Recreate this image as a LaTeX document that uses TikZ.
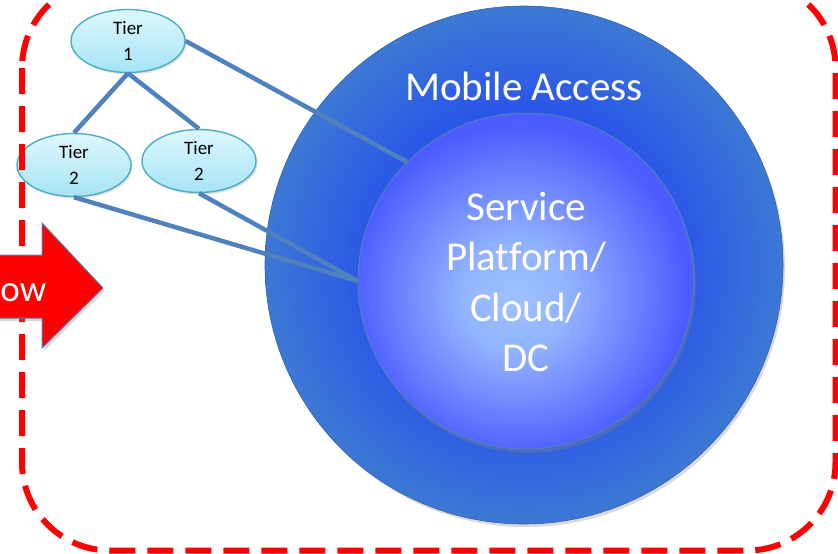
\documentclass[tikz,border=0pt]{standalone}
\usepackage{fontspec}
\setmainfont{Carlito}[Ligatures=NoCommon]
\usetikzlibrary{shapes.geometric,shadows}
\definecolor{ringin}{RGB}{42,86,232}
\definecolor{ringout}{RGB}{60,120,212}
\definecolor{coreout}{RGB}{76,92,255}
\definecolor{corein}{RGB}{158,194,255}
\definecolor{linkblue}{RGB}{79,129,189}
\definecolor{tierborder}{RGB}{75,172,198}
\definecolor{tiertop}{RGB}{222,247,253}
\definecolor{tierbot}{RGB}{165,228,245}
\definecolor{boxred}{RGB}{255,0,0}
\pgfdeclareradialshading{ringshade}{\pgfpoint{0bp}{0bp}}{color(0bp)=(ringin); color(15bp)=(ringin); color(25bp)=(ringout); color(50bp)=(ringout)}
\pgfdeclareradialshading{coreshade}{\pgfpoint{-2bp}{-3bp}}{color(0bp)=(corein); color(8bp)=(corein!85!coreout); color(25bp)=(coreout); color(50bp)=(coreout)}
\begin{document}
\begin{tikzpicture}[x=1pt,y=-1pt,
  tier/.style={ellipse, draw=tierborder, line width=1.4pt, top color=tiertop, bottom color=tierbot,
    minimum width=114pt, minimum height=63pt, inner sep=0pt, align=center,
    font=\fontsize{19}{26}\selectfont, text=black,
    drop shadow={opacity=0.25, shadow xshift=1.5pt, shadow yshift=-2pt}},
  link/.style={draw=linkblue, line width=4.5pt},
  bigtext/.style={text=white, font=\fontsize{41}{50.5}\selectfont, align=center},
  redbox/.style={draw=boxred, line width=6pt, dash pattern=on 26pt off 12pt, rounded corners=88pt}]
\useasboundingbox (0,0) rectangle (838,554);
% circles
\node[circle, minimum size=518pt, inner sep=0pt, shading=ringshade, draw=ringout!80!black, line width=0.6pt,
  drop shadow={opacity=0.3, shadow xshift=2pt, shadow yshift=-3pt}] (outer) at (524,265) {};
\node[circle, minimum size=336pt, inner sep=0pt, shading=coreshade, draw=linkblue, line width=1pt,
  drop shadow={opacity=0.35, shadow xshift=2pt, shadow yshift=-4pt}] (inner) at (526,281) {};
\node[bigtext] (core) at (526,282) {Service\\Platform/\\Cloud/\\DC};
\node[bigtext, anchor=base] (mobile) at (524,100) {Mobile Access};
% tiers
\node[tier] (tier1) at (128,41) {Tier\\1};
\node[tier] (tier2a) at (74,165) {Tier\\2};
\node[tier] (tier2b) at (199,161) {Tier\\2};
% connectors
\draw[link] (tier1.south) -- (tier2a.north);
\draw[link] (tier1.south) -- (tier2b.north);
\draw[link] (tier1.east) -- (inner.135);
\draw[link] (tier2a.south) -- (inner.180);
\draw[link] (tier2b.south) -- (inner.180);
% red dashed frame
\draw[redbox] (22,-20) rectangle (835.5,550.5);
% red arrow
\fill[boxred, draw=linkblue, line width=1pt, drop shadow={opacity=0.3, shadow xshift=2pt, shadow yshift=-3pt}]
  (-5,255) -- (42,255) -- (42,223) -- (103,288) -- (42,348) -- (42,318) -- (-5,318) -- cycle;
\node[text=white, font=\fontsize{37}{45}\selectfont, anchor=base east, inner sep=0pt] (arrowtxt) at (46.5,301) {ow};
\end{tikzpicture}
\end{document}
